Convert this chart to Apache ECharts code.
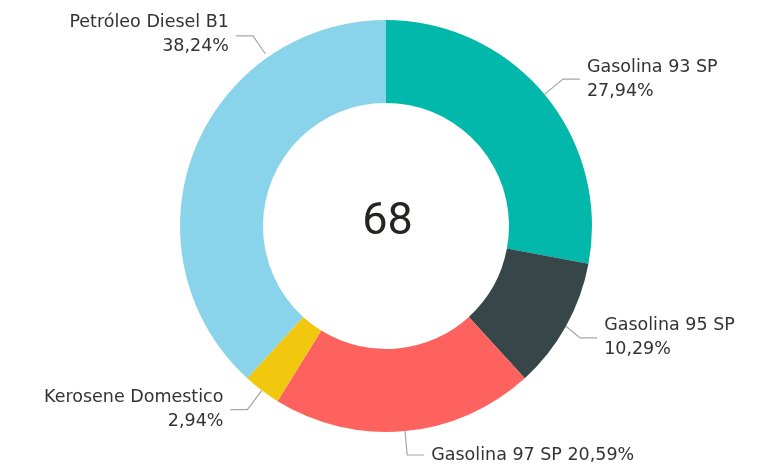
<!DOCTYPE html>
<html>
<head>
<meta charset="utf-8">
<script src="https://cdn.jsdelivr.net/npm/echarts@6/dist/echarts.min.js"></script>
<style>
  html, body { margin: 0; padding: 0; background: #fff; }
  #chart { width: 775px; height: 468px; }
</style>
</head>
<body>
<div id="chart"></div>
<script>
const categories = ['Gasolina 93 SP', 'Gasolina 95 SP', 'Gasolina 97 SP', 'Kerosene Domestico', 'Petróleo Diesel B1']
const counts = [19, 7, 14, 2, 26]
const colors = ['#01B8AA', '#374649', '#FD625E', '#F2C80F', '#8AD4EB']
const total = counts.reduce((a, b) => a + b, 0)

const CENTER = [386, 226]
const RADIUS = [123, 206]

const chart = echarts.init(document.getElementById('chart'))
chart.setOption({
  animation: false,
  color: colors,
  title: {
    text: String(total),
    left: 'center',
    top: 195,
    textStyle: { fontSize: 45, fontWeight: 'normal', color: '#252423', fontFamily: 'Roboto' },
  },
  series: [
    {
      type: 'pie',
      center: CENTER,
      radius: RADIUS,
      startAngle: 90,
      clockwise: true,
      percentPrecision: 2,
      label: {
        color: '#333',
        fontFamily: 'DejaVu Sans',
        fontSize: 17.5,
        lineHeight: 24,
        overflow: 'none',
        distanceToLabelLine: 7,
        formatter: (p) => {
          const pct = p.percent.toFixed(2).replace('.', ',') + '%'
          // 底部那一個放在同一行
          return p.name === 'Gasolina 97 SP' ? p.name + ' ' + pct : p.name + '\n' + pct
        },
      },
      labelLine: {
        length: 24,
        length2: 17,
        lineStyle: { color: '#a6a6a6', width: 1.2 },
      },
      // Petróleo Diesel B1 的標籤放在左上角 (像原圖)
      labelLayout: (params) => {
        if (params.dataIndex !== 4) return
        const a = (35 * Math.PI) / 180
        const r = RADIUS[1] + 4
        const p0 = [CENTER[0] - r * Math.sin(a), CENTER[1] - r * Math.cos(a)]
        const p1 = [p0[0] - 22 * Math.sin(a), p0[1] - 22 * Math.cos(a)]
        const p2 = [p1[0] - 17, p1[1]]
        return {
          x: p2[0] - 7,
          y: p2[1] - 2,
          align: 'right',
          verticalAlign: 'middle',
          labelLinePoints: [p0, p1, p2],
        }
      },
      emphasis: { disabled: true },
      data: categories.map((name, i) => ({ name, value: counts[i] })),
    },
  ],
})
</script>
</body>
</html>
